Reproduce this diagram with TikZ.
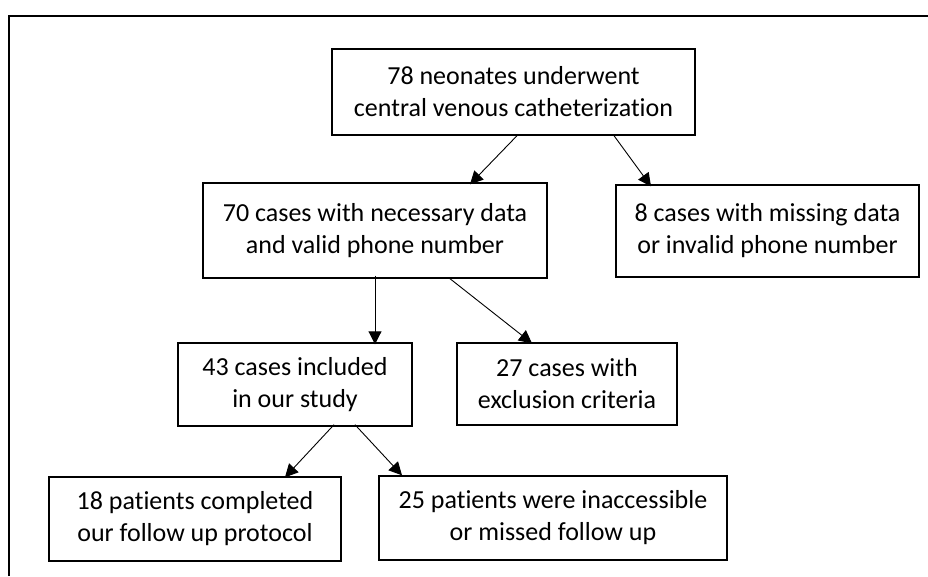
\documentclass[tikz,border=0pt]{standalone}
\usepackage{fontspec}
\setmainfont[Ligatures=NoCommon]{Carlito}
\usetikzlibrary{arrows.meta}
\usetikzlibrary{positioning}

\tikzset{
  flowbox/.style={draw, line width=1.4pt, align=center, inner sep=0pt,
    font=\fontsize{26}{32}\selectfont},
  flowarrow/.style={line width=0.9pt, -{Triangle[length=13pt,width=13pt]}}
}

\begin{document}
\begin{tikzpicture}[x=1pt,y=-1pt]

\useasboundingbox (0,0) rectangle (928,576);

% outer frame
\draw[line width=2pt] (9,576) -- (9,15.5) -- (928,15.5);

% first row
\node[flowbox, minimum width=363pt, minimum height=86pt] (neonates) at (513.5,92) {78 neonates underwent\\central venous catheterization};

% second row
\node[flowbox, minimum width=344pt, minimum height=95pt] (valid) at (375,230.5) {70 cases with necessary data\\and valid phone number};
\node[flowbox, minimum width=303pt, minimum height=92pt] (missing) at (767.5,231) {8 cases with missing data\\or invalid phone number};

% third row
\node[flowbox, minimum width=234pt, minimum height=83pt] (included) at (295,384.5) {43 cases included\\in our study};
\node[flowbox, minimum width=220pt, minimum height=82pt] (excluded) at (567,384) {27 cases with\\exclusion criteria};

% last row
\node[flowbox, minimum width=292pt, minimum height=84pt] (completed) at (195,519) {18 patients completed\\our follow up protocol};
\node[flowbox, minimum width=348pt, minimum height=84pt] (lost) at (553,518) {25 patients were inaccessible\\or missed follow up};

% arrows
\draw[flowarrow] ([xshift=3.5pt]neonates.south) -- ([xshift=95pt,yshift=-2pt]valid.north);
\draw[flowarrow] ([xshift=100.5pt]neonates.south) -- ([xshift=-116.5pt,yshift=-2pt]missing.north);
\draw[flowarrow] ([yshift=3pt]valid.south) -- ([xshift=80pt,yshift=-2pt]included.north);
\draw[flowarrow] ([xshift=75pt]valid.south) -- ([xshift=-35pt,yshift=-1pt]excluded.north);
\draw[flowarrow] ([xshift=39pt,yshift=2pt]included.south) -- ([xshift=90pt,yshift=-1pt]completed.north);
\draw[flowarrow] ([xshift=60pt,yshift=2pt]included.south) -- ([xshift=-151pt]lost.north);

\end{tikzpicture}
\end{document}
